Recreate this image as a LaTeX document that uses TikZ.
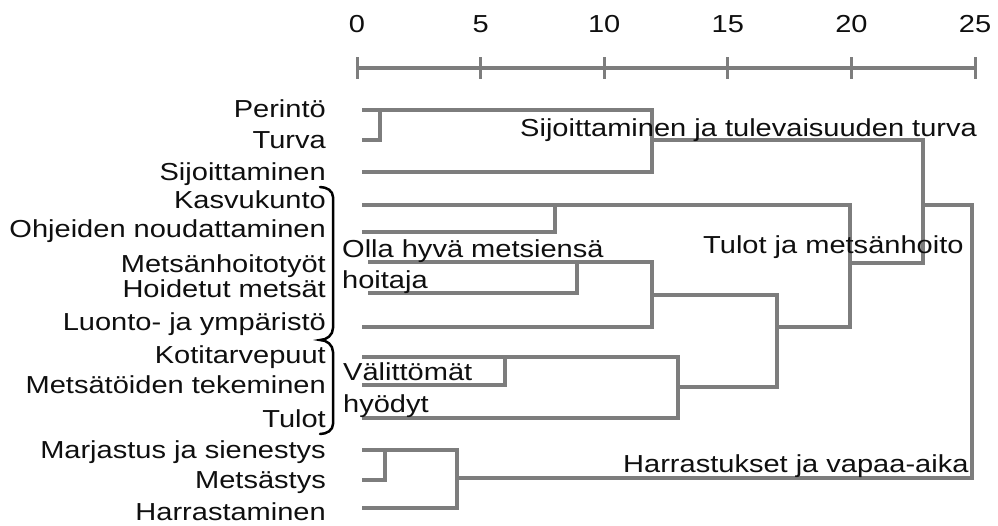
\documentclass[tikz,border=0pt]{standalone}
\usepackage{fontspec}
\setmainfont{Liberation Sans}[FakeStretch=1.18]
\usepackage{tikz}
\usetikzlibrary{calc}
\definecolor{mygray}{RGB}{125,125,125}
\definecolor{mydark}{RGB}{15,15,15}
\tikzset{
  leaf/.style={anchor=base east, inner sep=0pt, text=mydark,
    font=\fontsize{24.6}{26}\selectfont},
  grplabel/.style={anchor=base west, inner sep=0pt, text=mydark,
    font=\fontsize{24.6}{26}\selectfont},
  axlabel/.style={anchor=base, inner sep=0pt, text=mydark,
    font=\fontsize{24.6}{26}\selectfont},
  branch/.style={draw=mygray, line width=4pt, line join=miter},
  axline/.style={draw=mygray, line width=4.5pt},
  axtick/.style={draw=mygray, line width=3pt},
  bracestroke/.style={draw=black, line width=2.5pt, line cap=round}
}

\begin{document}
\begin{tikzpicture}[x=1pt, y=-1pt]
  \useasboundingbox (0,0) rectangle (998,525);

  % Scale
  \foreach \v in {0,5,...,25} {
    \coordinate (t\v) at ({357+24.72*\v},68);
    \node[axlabel] (n\v) at ({357+24.72*\v},32) {\v};
    \draw[axtick] ($(t\v)+(0,-11)$) -- ($(t\v)+(0,11)$);
  }
  \draw[axline] (t0) -- (t25);

  % Leaves
  \node[leaf] (per) at (326,117) {Perintö};
  \node[leaf] (tur) at (326,148) {Turva};
  \node[leaf] (sij) at (326,180) {Sijoittaminen};
  \node[leaf] (kas) at (326,208) {Kasvukunto};
  \node[leaf] (ohj) at (326,237) {Ohjeiden noudattaminen};
  \node[leaf] (mht) at (326,272) {Metsänhoitotyöt};
  \node[leaf] (hoi) at (326,297) {Hoidetut metsät};
  \node[leaf] (luo) at (326,330) {Luonto- ja ympäristö};
  \node[leaf] (kot) at (326,363) {Kotitarvepuut};
  \node[leaf] (mtt) at (326,393) {Metsätöiden tekeminen};
  \node[leaf] (tul) at (326,427) {Tulot};
  \node[leaf] (mar) at (326,458) {Marjastus ja sienestys};
  \node[leaf] (mts) at (326,488) {Metsästys};
  \node[leaf] (har) at (326,520) {Harrastaminen};

  % Leaf line starts
  \coordinate (lPer) at (362,110);
  \coordinate (lTur) at (362,140);
  \coordinate (lSij) at (362,172);
  \coordinate (lKas) at (362,205);
  \coordinate (lOhj) at (362,232);
  \coordinate (lMht) at (368,262);
  \coordinate (lHoi) at (368,293);
  \coordinate (lLuo) at (362,327);
  \coordinate (lKot) at (362,357);
  \coordinate (lMtt) at (362,385);
  \coordinate (lTul) at (362,418);
  \coordinate (lMar) at (362,450);
  \coordinate (lMts) at (362,480);
  \coordinate (lHar) at (362,508);

  % Merge points
  \coordinate (jPT) at (380,110);
  \coordinate (jSa) at (652,110);
  \coordinate (jSb) at (652,172);
  \coordinate (jSo) at (652,140);
  \coordinate (jKO) at (555,205);
  \coordinate (jMH) at (577,262);
  \coordinate (jHa) at (652,262);
  \coordinate (jHb) at (652,327);
  \coordinate (jHo) at (652,295);
  \coordinate (jMT) at (505,357);
  \coordinate (jVa) at (678,357);
  \coordinate (jVb) at (678,418);
  \coordinate (jVo) at (678,387);
  \coordinate (jHVa) at (777,295);
  \coordinate (jHVb) at (777,387);
  \coordinate (jHVo) at (777,327);
  \coordinate (jTa) at (850,205);
  \coordinate (jTb) at (850,327);
  \coordinate (jTo) at (850,263);
  \coordinate (jRa) at (923,140);
  \coordinate (jRb) at (923,263);
  \coordinate (jRo) at (923,205);
  \coordinate (jMM) at (385,450);
  \coordinate (jHra) at (457,450);
  \coordinate (jHrb) at (457,508);
  \coordinate (jHro) at (457,478);
  \coordinate (jTopa) at (972,205);
  \coordinate (jTopb) at (972,478);

  % Dendrogram
  \draw[branch] (lPer) -- (jSa) -- (jSb) -- (lSij);
  \draw[branch] (lTur) -| (jPT);
  \draw[branch] (lKas) -- (jTa) -- (jTb) -- (jHVo);
  \draw[branch] (lOhj) -| (jKO);
  \draw[branch] (lMht) -- (jHa) -- (jHb) -- (lLuo);
  \draw[branch] (lHoi) -| (jMH);
  \draw[branch] (jHo) -- (jHVa) -- (jHVb) -- (jVo);
  \draw[branch] (lKot) -- (jVa) -- (jVb) -- (lTul);
  \draw[branch] (lMtt) -| (jMT);
  \draw[branch] (jSo) -- (jRa) -- (jRb) -- (jTo);
  \draw[branch] (lMar) -- (jHra) -- (jHrb) -- (lHar);
  \draw[branch] (lMts) -| (jMM);
  \draw[branch] (jRo) -- (jTopa) -- (jTopb) -- (jHro);

  % Braces
  \draw[bracestroke] (320,187) to[out=0, in=90] (333,197) -- (333,328)
    to[out=-90, in=0] (320,340) to[out=0, in=90] (333,352) -- (333,424)
    to[out=-90, in=0] (320,434);

  % Group labels
  \node[grplabel] (gSij) at (520,136) {Sijoittaminen ja tulevaisuuden turva};
  \node[grplabel] (gOlla) at (342,257) {Olla hyvä metsiensä};
  \node[grplabel] (gHoit) at (342,288) {hoitaja};
  \node[grplabel] (gTulo) at (703,253) {Tulot ja metsänhoito};
  \node[grplabel] (gVal) at (343,380) {Välittömät};
  \node[grplabel] (gHyo) at (343,412) {hyödyt};
  \node[grplabel] (gHarr) at (623,472) {Harrastukset ja vapaa-aika};
\end{tikzpicture}
\end{document}
